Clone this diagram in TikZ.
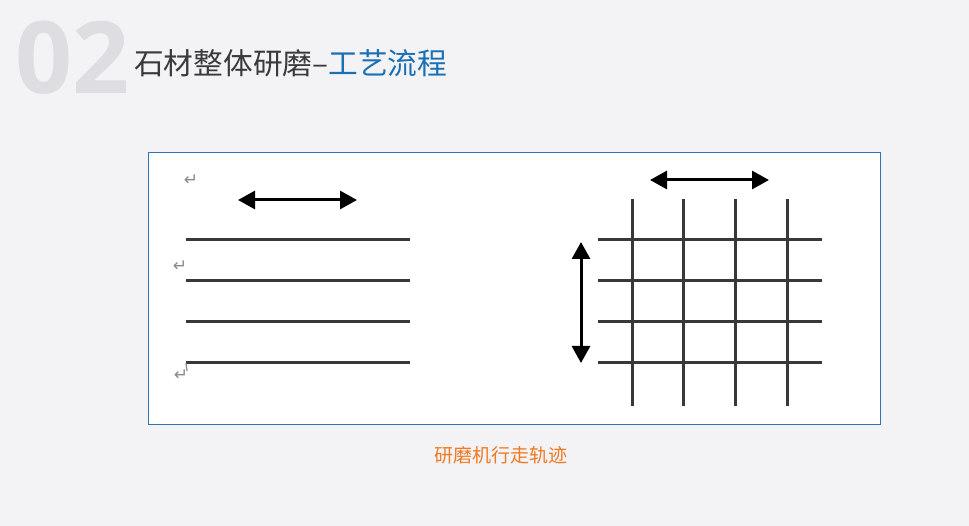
\documentclass[tikz,border=0pt]{standalone}
\usepackage{fontspec}
\setmainfont{Open Sans}
\newfontfamily\cjk{Noto Sans CJK SC}
\newfontfamily\symb{DejaVu Sans}
\usetikzlibrary{arrows.meta}
\definecolor{pagebg}{HTML}{F3F3F5}
\definecolor{numgray}{HTML}{DDDDE2}
\definecolor{titlegray}{HTML}{3A3A3A}
\definecolor{titleblue}{HTML}{1A6FB5}
\definecolor{framblue}{HTML}{2E75B6}
\definecolor{capor}{HTML}{EE7A22}
\definecolor{trackgray}{HTML}{383838}
\definecolor{markgray}{HTML}{8A8A8A}
\tikzset{
    track/.style={draw=trackgray, line width=3pt},
    move/.style={draw=black, line width=3pt, {Triangle[width=18pt,length=17pt]}-{Triangle[width=18pt,length=17pt]}},
    retmark/.style={text=markgray, inner sep=0pt, font=\symb\fontsize{17}{17}\selectfont}
}
\begin{document}
\begin{tikzpicture}[x=1pt,y=-1pt]
            \fill[pagebg] (0,0) rectangle (969,526);
            \useasboundingbox (0,0) rectangle (969,526);

            % heading
            \node[
                text=numgray,
                font=\bfseries\fontsize{100}{100}\selectfont,
                inner sep=0pt,
                anchor=base west,
                name=num
            ] at (15,94) {02};
            \node[
                font=\cjk\fontsize{29.7}{29.7}\selectfont,
                inner sep=0pt,
                anchor=base west,
                name=title
            ] at (134,75) {\textcolor{titlegray}{石材整体研磨–}\textcolor{titleblue}{工艺流程}};

            % frame
            \node[
                draw=framblue,
                fill=white,
                line width=0.8pt,
                minimum width=732pt,
                minimum height=272pt,
                inner sep=0pt,
                name=frame
            ] at (514,288) {};

            % left: parallel tracks
            \coordinate (La1) at (186,240);
            \coordinate (La2) at (410,240);
            \coordinate (Lb1) at (186,281);
            \coordinate (Lb2) at (410,281);
            \coordinate (Lc1) at (186,322);
            \coordinate (Lc2) at (410,322);
            \coordinate (Ld1) at (186,363);
            \coordinate (Ld2) at (410,363);
            \draw[track] (La1) -- (La2);
            \draw[track] (Lb1) -- (Lb2);
            \draw[track] (Lc1) -- (Lc2);
            \draw[track] (Ld1) -- (Ld2);

            \coordinate (LA1) at (238,200);
            \coordinate (LA2) at (357,200);
            \draw[move] (LA1) -- (LA2);

            \node[retmark, name=m1] at (191,180) {↵};
            \node[retmark, name=m2] at (180,266) {↵};
            \node[retmark, name=m3] at (181,375) {↵};
            \coordinate (hook) at (187,371);
            \draw[markgray, line width=1.2pt] (Ld1) -- (hook);

            % right: grid of tracks
            \coordinate (Ra1) at (598,240);
            \coordinate (Ra2) at (822,240);
            \coordinate (Rb1) at (598,281);
            \coordinate (Rb2) at (822,281);
            \coordinate (Rc1) at (598,322);
            \coordinate (Rc2) at (822,322);
            \coordinate (Rd1) at (598,363);
            \coordinate (Rd2) at (822,363);
            \draw[track] (Ra1) -- (Ra2);
            \draw[track] (Rb1) -- (Rb2);
            \draw[track] (Rc1) -- (Rc2);
            \draw[track] (Rd1) -- (Rd2);

            \coordinate (Va1) at (632,199);
            \coordinate (Va2) at (632,406);
            \coordinate (Vb1) at (683,199);
            \coordinate (Vb2) at (683,406);
            \coordinate (Vc1) at (735,199);
            \coordinate (Vc2) at (735,406);
            \coordinate (Vd1) at (787,199);
            \coordinate (Vd2) at (787,406);
            \draw[track] (Va1) -- (Va2);
            \draw[track] (Vb1) -- (Vb2);
            \draw[track] (Vc1) -- (Vc2);
            \draw[track] (Vd1) -- (Vd2);

            \coordinate (RA1) at (650,180);
            \coordinate (RA2) at (769,180);
            \draw[move] (RA1) -- (RA2);
            \coordinate (RV1) at (581,242);
            \coordinate (RV2) at (581,363);
            \draw[move] (RV1) -- (RV2);

            % caption
            \node[
                text=capor,
                font=\cjk\fontsize{19}{19}\selectfont,
                inner sep=0pt,
                name=cap
            ] at (501,455) {研磨机行走轨迹};
        \end{tikzpicture}
\end{document}
